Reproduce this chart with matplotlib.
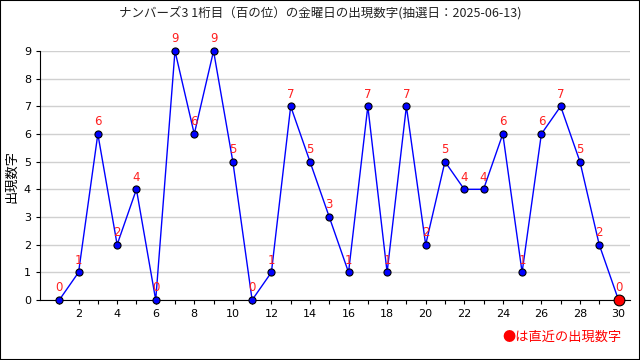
import matplotlib
matplotlib.use("Agg")
import matplotlib.pyplot as plt

plt.rcParams['font.family'] = ['Noto Sans CJK JP', 'DejaVu Sans']

draws = list(range(1, 31))
digits = [0, 1, 6, 2, 4, 0, 9, 6, 9, 5, 0, 1, 7, 5, 3, 1, 7, 1, 7, 2,
          5, 4, 4, 6, 1, 6, 7, 5, 2, 0]
title = 'ナンバーズ3 1桁目（百の位）の金曜日の出現数字(抽選日：2025-06-13)'

fig = plt.figure(figsize=(6.4, 3.6), dpi=100)
ax = fig.add_axes([0.0625, 0.1667, 0.922, 0.6917])

ax.plot(draws, digits, color='blue', lw=1, zorder=2)
ax.scatter(draws[:-1], digits[:-1], s=26, color='blue', edgecolor='black',
           linewidth=0.8, zorder=3, clip_on=False)
ax.scatter(draws[-1:], digits[-1:], s=60, color='red', edgecolor='black',
           linewidth=0.8, zorder=3, clip_on=False)
for x, y in zip(draws, digits):
    ax.annotate(str(y), (x, y), xytext=(0, 4), textcoords='offset points',
                ha='center', va='bottom', color='#ff2020', fontsize=8.5,
                family='DejaVu Sans')

ax.set_xlim(0, 30.6)
ax.set_ylim(0, 9)
ax.set_xticks(draws)
ax.set_xticklabels([str(d) if d % 2 == 0 else '' for d in draws])
ax.set_yticks(range(10))
ax.tick_params(labelsize=8, length=3, color='black')
for lab in ax.get_xticklabels() + ax.get_yticklabels():
    lab.set_family('DejaVu Sans')
ax.grid(axis='y', color='#d0d0d0', lw=1)
ax.set_axisbelow(True)
for s in ['top', 'right']:
    ax.spines[s].set_visible(False)

fig.text(0.019, 0.51, '出現数字', rotation=90, ha='center', va='center',
         fontsize=9.5)
fig.text(0.5, 0.965, title, ha='center', va='center', fontsize=9,
         color='#222222')
fig.text(0.972, 0.063, '●は直近の出現数字', ha='right', va='center',
         fontsize=9.5, color='red')

fig.patches.append(plt.Rectangle((0, 0), 1, 1, transform=fig.transFigure,
                                 fill=False, edgecolor='black', lw=1.5))

fig.savefig('out.png', dpi=100)
